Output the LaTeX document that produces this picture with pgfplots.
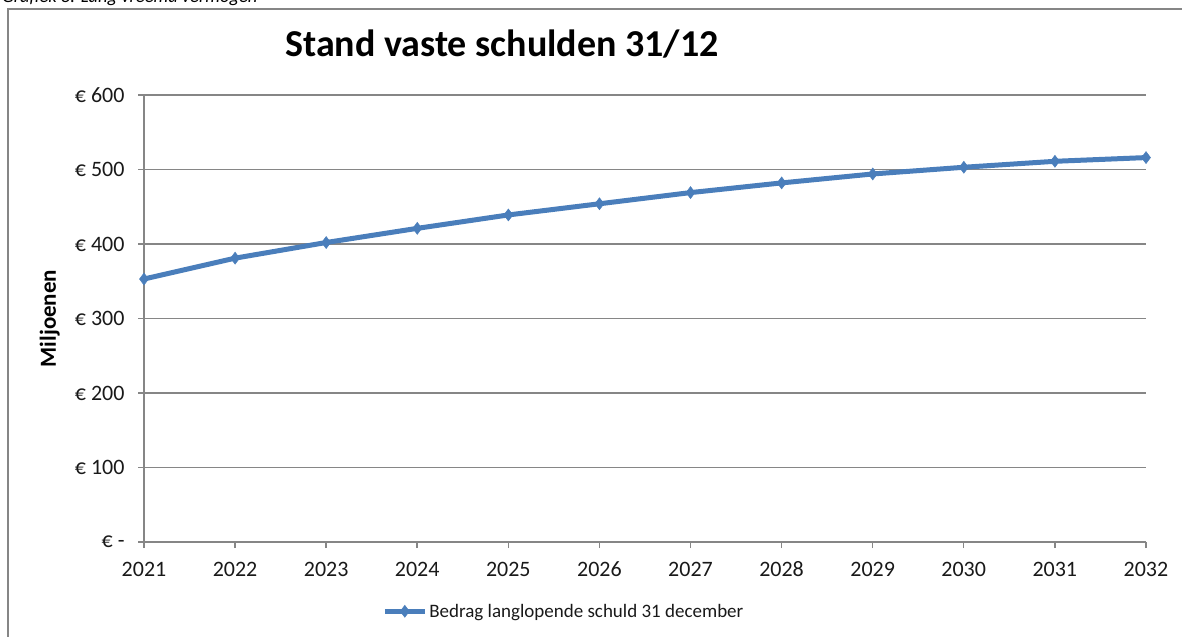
\documentclass[border=0pt]{standalone}
\usepackage{pgfplots}
\pgfplotsset{compat=1.18}
\usepackage{fontspec}
\setmainfont{Carlito}
\definecolor{gridgray}{HTML}{868686}
\definecolor{serieblue}{HTML}{4A7EBB}
\begin{document}
\begin{tikzpicture}
\useasboundingbox (0,0) rectangle (1182bp,637bp);
\clip (0,0) rectangle (1182bp,637bp);
% outer frame (left and top edges visible)
\draw[gridgray, line width=2bp] (7.5bp,-10bp) -- (7.5bp,628bp) -- (1200bp,628bp);
% cut-off caption at the very top
\node[anchor=base west, inner sep=0pt, font=\fontsize{18.5bp}{22bp}\selectfont\itshape] at (2bp,634bp) {Grafiek 8: Lang vreemd vermogen};
% chart title
\node[anchor=base, inner sep=0pt, font=\fontsize{38bp}{44bp}\selectfont\bfseries] at (502bp,580bp) {Stand vaste schulden 31/12};
\begin{axis}[
  at={(144bp,95bp)}, anchor=south west,
  scale only axis, width=1002bp, height=447bp,
  xmin=2021, xmax=2032, ymin=0, ymax=600,
  axis lines=left, axis line style={-, gridgray, line width=1.5bp},
  xtick={2021,...,2032},
  xticklabels={2021,2022,2023,2024,2025,2026,2027,2028,2029,2030,2031,2032},
  ytick={0,100,200,300,400,500,600},
  yticklabels={€ -,€ 100,€ 200,€ 300,€ 400,€ 500,€ 600},
  /pgf/number format/assume math mode=true,
  ymajorgrids, grid style={gridgray, line width=1.5bp},
  tick align=outside, major tick length=6bp,
  tick style={gridgray, line width=1.5bp},
  ticklabel style={font=\fontsize{22bp}{26bp}\selectfont, text=black!90},
  xticklabel style={yshift=-10bp, text height=15bp, text depth=0pt},
  yticklabel style={xshift=-10bp},
  ylabel={Miljoenen},
  ylabel style={at={(axis description cs:-0.094,0.5)}, anchor=center, rotate=0, font=\fontsize{23bp}{26bp}\selectfont\bfseries},
  legend style={at={(0.419,-0.155)}, anchor=center, draw=none, fill=none, font=\fontsize{19bp}{22bp}\selectfont, text=black!90, inner sep=0pt},
  legend cell align=left,
  legend image code/.code={
    \draw[#1, mark repeat=2, mark phase=2] plot coordinates {(0bp,0bp) (20bp,0bp) (40bp,0bp)};
  },
]
\addplot[color=serieblue, line width=5bp, mark=diamond*, mark size=6bp, mark options={line width=0.5bp, fill=serieblue}]
  coordinates {
  (2021,353) (2022,381) (2023,402) (2024,421) (2025,439) (2026,454)
  (2027,469) (2028,482) (2029,494) (2030,503) (2031,511) (2032,516)
  };
\addlegendentry{Bedrag langlopende schuld 31 december}
\end{axis}
\end{tikzpicture}
\end{document}
